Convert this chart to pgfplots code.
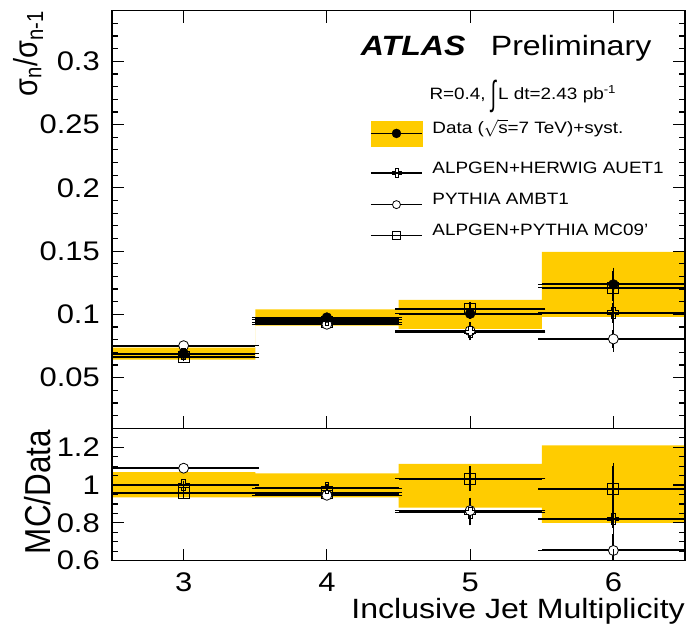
\documentclass[border=0pt]{standalone}
\usepackage{pgfplots}
\pgfplotsset{compat=1.18}
\usepackage{pgfplotstable}
\usepgfplotslibrary{fillbetween}
\usepackage{graphicx}
\usepackage{fontspec}
\setmainfont{Liberation Sans}[FakeStretch=1.15]
\newfontfamily\plainsans{Liberation Sans}

\definecolor{atlasyellow}{RGB}{255,204,0}

% open cross marker
\pgfdeclareplotmark{ocross}{%
  \pgfpathmoveto{\pgfqpoint{-0.35\pgfplotmarksize}{\pgfplotmarksize}}%
  \pgfpathlineto{\pgfqpoint{0.35\pgfplotmarksize}{\pgfplotmarksize}}%
  \pgfpathlineto{\pgfqpoint{0.35\pgfplotmarksize}{0.35\pgfplotmarksize}}%
  \pgfpathlineto{\pgfqpoint{\pgfplotmarksize}{0.35\pgfplotmarksize}}%
  \pgfpathlineto{\pgfqpoint{\pgfplotmarksize}{-0.35\pgfplotmarksize}}%
  \pgfpathlineto{\pgfqpoint{0.35\pgfplotmarksize}{-0.35\pgfplotmarksize}}%
  \pgfpathlineto{\pgfqpoint{0.35\pgfplotmarksize}{-\pgfplotmarksize}}%
  \pgfpathlineto{\pgfqpoint{-0.35\pgfplotmarksize}{-\pgfplotmarksize}}%
  \pgfpathlineto{\pgfqpoint{-0.35\pgfplotmarksize}{-0.35\pgfplotmarksize}}%
  \pgfpathlineto{\pgfqpoint{-\pgfplotmarksize}{-0.35\pgfplotmarksize}}%
  \pgfpathlineto{\pgfqpoint{-\pgfplotmarksize}{0.35\pgfplotmarksize}}%
  \pgfpathlineto{\pgfqpoint{-0.35\pgfplotmarksize}{0.35\pgfplotmarksize}}%
  \pgfpathclose
  \pgfusepathqstroke
}

% cross-section ratios sigma_n / sigma_(n-1)
\pgfplotstableread{
x ex data dstat herwig herr pythia perr mcnine merr
3 0.5 0.0690 0.0005 0.0690 0.0005 0.0753 0.0005 0.0661 0.0005
4 0.5 0.0975 0.0006 0.0958 0.0006 0.0922 0.0006 0.0937 0.0006
5 0.5 0.1006 0.0015 0.0862 0.0040 0.0870 0.0040 0.1042 0.0030
6 0.5 0.1237 0.0105 0.1014 0.0080 0.0806 0.0072 0.1212 0.0110
}\topvals
% data systematic band (bin edges, last row closes the last bin)
\pgfplotstableread{
edge lo hi
2.5 0.0643 0.0738
3.5 0.0912 0.1040
4.5 0.0885 0.1115
5.5 0.0980 0.1494
6.5 0.0980 0.1494
}\topband
% MC / Data
\pgfplotstableread{
x ex herwig herr pythia perr mcnine merr
3 0.5 1.000 0.005 1.089 0.005 0.957 0.005
4 0.5 0.983 0.006 0.946 0.006 0.960 0.006
5 0.5 0.855 0.050 0.865 0.050 1.034 0.047
6 0.5 0.821 0.050 0.654 0.085 0.979 0.120
}\ratiovals
\pgfplotstableread{
edge lo hi
2.5 0.935 1.068
3.5 0.935 1.062
4.5 0.880 1.112
5.5 0.800 1.210
6.5 0.800 1.210
}\ratioband

\pgfplotsset{
  atlasaxis/.style={
    scale only axis, width=573bp,
    xmin=2.5, xmax=6.5, xtick={3,4,5,6},
    tick align=inside, axis on top,
    axis line style={line width=1.2bp},
    every tick/.style={black, line width=1.2bp},
    major tick length=12bp, minor tick length=6bp,
    scaled y ticks=false,
    /pgf/number format/assume math mode=true,
    tick label style={font=\fontsize{27}{27}\selectfont},
    yticklabel style={anchor=east, inner sep=0pt, xshift=-12bp},
    xticklabel style={anchor=north, inner sep=0pt, yshift=-12bp},
  },
  bars/.style={
    black, only marks,
    error bars/x dir=both, error bars/x explicit,
    error bars/y dir=both, error bars/y explicit,
    error bars/error bar style={line width=2bp, black},
    error bars/error mark options={line width=1.5bp, mark size=3.5bp, black},
  },
  datastyle/.style={bars, mark=*, mark size=5bp, mark options={fill=black, draw=black}},
  herwigstyle/.style={bars, mark=ocross, mark size=5.5bp, mark options={draw=black, line width=0.8bp}},
  pythiastyle/.style={bars, mark=*, mark size=5bp, mark options={fill=white, draw=black, line width=0.8bp}},
  mcninestyle/.style={bars, mark=square, mark size=5.5bp, mark options={draw=black, fill=none, line width=0.8bp}},
  legline/.style={
    legend image code/.code={
      \draw[black, line width=1.5bp] (0bp,0bp) -- (51bp,0bp);
      \path[##1] plot coordinates {(25.5bp,0bp)};
    }
  },
}

\begin{document}
\begin{tikzpicture}

% upper panel
\begin{axis}[
  atlasaxis,
  at={(112bp,206.7bp)}, anchor=south west,
  height=417.6bp,
  ymin=0.01, ymax=0.34,
  ytick={0.05,0.1,0.15,0.2,0.25,0.3},
  yticklabels={0.05,0.1,0.15,0.2,0.25,0.3},
  minor ytick={0.01,0.02,0.03,0.04,0.06,0.07,0.08,0.09,0.11,0.12,0.13,0.14,0.16,0.17,0.18,0.19,0.21,0.22,0.23,0.24,0.26,0.27,0.28,0.29,0.31,0.32,0.33,0.34},
  xticklabels={},
  legend style={
    at={(axis description cs:0.4503,0.737)}, anchor=north west,
    draw=none, fill=none, inner sep=0pt,
    row sep=15bp, column sep=9.7bp,
    nodes={inner sep=0pt, text height=12bp, text depth=4bp, anchor=base west},
    font=\fontsize{16.5}{16.5}\selectfont,
  },
  legend cell align=left,
]
\addlegendimage{legend image code/.code={
    \fill[atlasyellow] (0bp,-12.5bp) rectangle (51bp,12.5bp);
    \draw[black, line width=1.5bp] (0bp,0bp) -- (51bp,0bp);
    \path[black, mark=*, mark size=4.5bp] plot coordinates {(25.5bp,0bp)};
  }}
\addlegendentry{Data ($\sqrt{\mbox{s}}$=7 TeV)+syst.}
\addlegendimage{legline, black, mark=ocross, mark size=4.5bp, mark options={line width=0.8bp}}
\addlegendentry{ALPGEN+HERWIG AUET1}
\addlegendimage{legline, black, mark=*, mark size=4bp, mark options={fill=white, line width=0.8bp}}
\addlegendentry{PYTHIA AMBT1}
\addlegendimage{legline, black, mark=square, mark size=4bp, mark options={fill=none, line width=0.8bp}}
\addlegendentry{ALPGEN+PYTHIA MC09'}

\addplot[draw=none, const plot, name path=tlo, forget plot] table[x=edge, y=lo] \topband;
\addplot[draw=none, const plot, name path=thi, forget plot] table[x=edge, y=hi] \topband;
\addplot[atlasyellow, forget plot] fill between[of=tlo and thi];

\addplot[mcninestyle, forget plot] table[x=x, y=mcnine, x error=ex, y error=merr] \topvals;
\addplot[pythiastyle, forget plot] table[x=x, y=pythia, x error=ex, y error=perr] \topvals;
\addplot[herwigstyle, forget plot] table[x=x, y=herwig, x error=ex, y error=herr] \topvals;
\addplot[datastyle, forget plot] table[x=x, y=data, x error=ex, y error=dstat] \topvals;
\end{axis}

% ratio panel
\begin{axis}[
  atlasaxis,
  at={(112bp,74.3bp)}, anchor=south west,
  height=132.4bp,
  ymin=0.6, ymax=1.3,
  ytick={0.6,0.8,1,1.2},
  yticklabels={0.6,0.8,1,1.2},
  minor ytick={0.65,0.7,0.75,0.85,0.9,0.95,1.05,1.1,1.15,1.25,1.3},
  xtick pos=bottom,
  xticklabels={3,4,5,6},
]
\addplot[draw=none, const plot, name path=rlo] table[x=edge, y=lo] \ratioband;
\addplot[draw=none, const plot, name path=rhi] table[x=edge, y=hi] \ratioband;
\addplot[atlasyellow] fill between[of=rlo and rhi];

\addplot[mcninestyle] table[x=x, y=mcnine, x error=ex, y error=merr] \ratiovals;
\addplot[pythiastyle] table[x=x, y=pythia, x error=ex, y error=perr] \ratiovals;
\addplot[herwigstyle] table[x=x, y=herwig, x error=ex, y error=herr] \ratiovals;
\end{axis}

% titles and annotations
\node[anchor=base west, inner sep=0pt, font=\fontsize{28}{28}\selectfont\bfseries\itshape] at (360.7bp,579bp) {ATLAS};
\node[anchor=base west, inner sep=0pt, font=\fontsize{28}{28}\selectfont] at (490.7bp,579bp) {Preliminary};
\node[anchor=base west, inner sep=0pt, font=\fontsize{16.5}{16.5}\selectfont] at (429.3bp,535bp)
  {R=0.4, \raisebox{-6bp}[12bp][0bp]{\scalebox{1}[2.1]{∫}}\kern2bp L dt=2.43 pb\textsuperscript{-1}};
\node[anchor=base east, inner sep=0pt, font=\fontsize{28}{28}\selectfont] at (685bp,17bp) {Inclusive Jet Multiplicity};
\node[rotate=90, anchor=base east, inner sep=0pt] at (37bp,624.3bp)
  {\plainsans\fontsize{29}{29}\selectfont\scalebox{1}[1.15]{σ\textsubscript{n}/σ\textsubscript{n-1}}};
\node[rotate=90, anchor=base east, inner sep=0pt] at (50bp,205bp)
  {\plainsans\fontsize{31.5}{31.5}\selectfont\scalebox{1}[1.15]{MC/Data}};

% fixed page frame
\pgfresetboundingbox
\useasboundingbox (0,0) rectangle (687bp,635bp);
\end{tikzpicture}
\end{document}
